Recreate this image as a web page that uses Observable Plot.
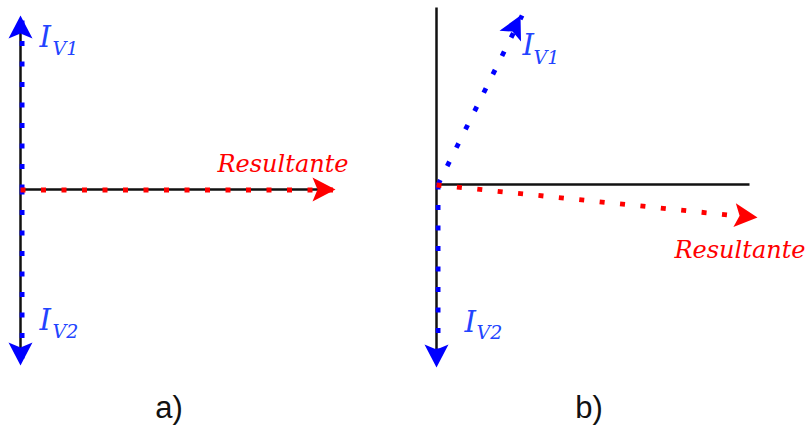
<!DOCTYPE html>
<html>
<head>
<meta charset="utf-8">
<script src="https://cdn.jsdelivr.net/npm/d3@7"></script>
<script src="https://cdn.jsdelivr.net/npm/@observablehq/plot@0.6"></script>
<style>
  html, body { margin: 0; padding: 0; background: #fff; }
  #root { position: relative; width: 807px; height: 428px; overflow: hidden; }
  .panel { position: absolute; top: 0; }
  .cap { position: absolute; top: 392px; font-family: "Liberation Sans", Arial, sans-serif; font-size: 31px; line-height: 31px; color: #111; transform: translateX(-50%); white-space: nowrap; }
</style>
</head>
<body>
<div id="root"></div>
<script>
// ---- data (phasor components, arbitrary units) ----
const vectorNames = ["I_V1", "I_V2", "Resultante"];
const panelA_x = [0, 0, 3.15];
const panelA_y = [1.74, -1.76, 0];
const panelB_x = [0.84, 0, 3.21];
const panelB_y = [1.69, -1.83, -0.33];
// reference axes extents
const axisA_h = [0, 3.0];
const axisA_v = [-1.6, 1.6];
const axisB_h = [0, 3.13];
const axisB_v = [-1.7, 1.77];
// labels
const labelMain = ["I", "I", "Resultante"];
const labelSub = ["V1", "V2", ""];
const captions = ["a)", "b)"];

// ---- styling / layout (not data) ----
const colorOf = {I_V1: "#0000ff", I_V2: "#0000ff", Resultante: "#ff0000"};
const labelColorOf = {I_V1: "#2244ff", I_V2: "#2244ff", Resultante: "#ff0000"};
const arrowHead = {
  draw(ctx) {
    ctx.moveTo(0, 0);
    ctx.lineTo(12, 23);
    ctx.lineTo(0, 18);
    ctx.lineTo(-12, 23);
    ctx.closePath();
  }
};

function makeVectors(xs, ys) {
  return vectorNames.map((name, i) => ({
    name, x: xs[i], y: ys[i],
    angle: Math.atan2(ys[i], xs[i]) * 180 / Math.PI,
    main: labelMain[i], sub: labelSub[i]
  }));
}

function panel({vectors, axisH, axisV, width, xDomain, yDomain, offsets}) {
  const axes = [
    {x1: axisH[0], y1: 0, x2: axisH[1], y2: 0},
    {x1: 0, y1: axisV[1], x2: 0, y2: axisV[0]}
  ];
  const blue = vectors.filter(d => d.name !== "Resultante");
  const red = vectors.filter(d => d.name === "Resultante");
  const textMarks = [];
  for (const v of vectors) {
    const o = offsets[v.name];
    const one = [v];
    if (v.sub) {
      textMarks.push(Plot.text(one, {x: "x", y: "y", text: "main", dx: o.main[0], dy: o.main[1],
        textAnchor: "start", lineAnchor: "middle", fill: labelColorOf[v.name],
        fontFamily: "DejaVu Serif", fontStyle: "italic", fontSize: 29}));
      textMarks.push(Plot.text(one, {x: "x", y: "y", text: "sub", dx: o.sub[0], dy: o.sub[1],
        textAnchor: "start", lineAnchor: "middle", fill: labelColorOf[v.name],
        fontFamily: "DejaVu Serif", fontStyle: "italic", fontSize: 19}));
    } else {
      textMarks.push(Plot.text(one, {x: "x", y: "y", text: "main", dx: o.main[0], dy: o.main[1],
        textAnchor: "end", lineAnchor: "middle", fill: labelColorOf[v.name],
        fontFamily: "DejaVu Serif", fontStyle: "italic", fontSize: 24}));
    }
  }
  return Plot.plot({
    width, height: 380,
    marginTop: 0, marginRight: 0, marginBottom: 0, marginLeft: 0,
    x: {domain: xDomain, axis: null},
    y: {domain: yDomain, axis: null},
    color: {type: "identity"},
    style: {overflow: "visible", background: "transparent"},
    marks: [
      Plot.link(axes, {x1: "x1", y1: "y1", x2: "x2", y2: "y2", stroke: "#111", strokeWidth: 2.5}),
      Plot.link(blue, {x1: 0, y1: 0, x2: "x", y2: "y", stroke: d => colorOf[d.name], strokeWidth: 4.8,
        strokeDasharray: "5,15.5", dx: 1.6}),
      Plot.link(red, {x1: 0, y1: 0, x2: "x", y2: "y", stroke: d => colorOf[d.name], strokeWidth: 4.8,
        strokeDasharray: "5,15.5", dy: 0.5}),
      Plot.dot(vectors, {x: "x", y: "y", symbol: arrowHead, fill: d => colorOf[d.name], stroke: null,
        rotate: d => 90 - d.angle}),
      ...textMarks
    ]
  });
}

const root = document.getElementById("root");

const svgA = panel({
  vectors: makeVectors(panelA_x, panelA_y),
  axisH: axisA_h, axisV: axisA_v, width: 410,
  xDomain: [-0.20, 3.90], yDomain: [-1.91, 1.89],
  offsets: {
    I_V1: {main: [19, 22], sub: [32, 33]},
    I_V2: {main: [19, -45], sub: [32, -34]},
    Resultante: {main: [13, -25]}
  }
});
svgA.classList.add("panel");
svgA.style.left = "0px";
root.appendChild(svgA);

const svgB = panel({
  vectors: makeVectors(panelB_x, panelB_y),
  axisH: axisB_h, axisV: axisB_v, width: 397,
  xDomain: [-0.26, 3.71], yDomain: [-1.96, 1.84],
  offsets: {
    I_V1: {main: [2, 30], sub: [13, 42]},
    I_V2: {main: [28, -45], sub: [40, -35]},
    Resultante: {main: [48, 33]}
  }
});
svgB.classList.add("panel");
svgB.style.left = "410px";
root.appendChild(svgB);

const capX = [169, 589];
captions.forEach((c, i) => {
  const d = document.createElement("div");
  d.className = "cap";
  d.textContent = c;
  d.style.left = capX[i] + "px";
  root.appendChild(d);
});
</script>
</body>
</html>
